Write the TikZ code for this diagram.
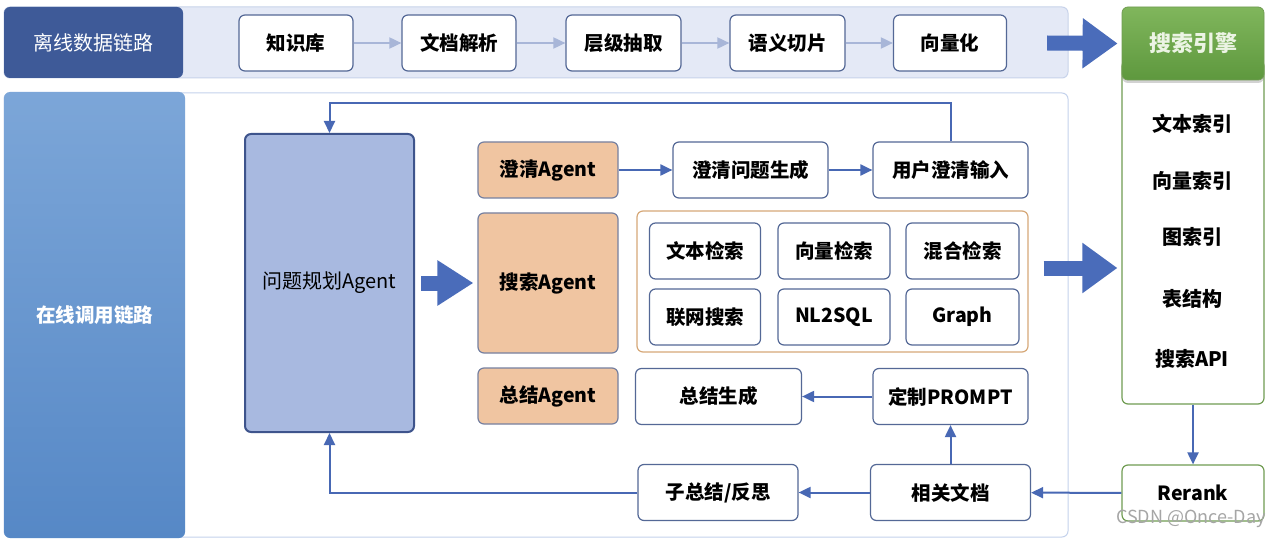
\documentclass[tikz,border=0pt]{standalone}
\usepackage{fontspec}
\setmainfont{Noto Sans CJK SC}
\usetikzlibrary{arrows.meta,calc,shadows}
\definecolor{darkband}{RGB}{62,90,152}
\definecolor{topfill}{RGB}{228,233,246}
\definecolor{topbd}{RGB}{200,211,234}
\definecolor{boxbd}{RGB}{84,104,150}
\definecolor{lightarr}{RGB}{168,182,216}
\definecolor{bigblue}{RGB}{74,108,186}
\definecolor{connblue}{RGB}{72,104,180}
\definecolor{onltop}{RGB}{124,166,216}
\definecolor{onlbot}{RGB}{86,136,198}
\definecolor{planfill}{RGB}{168,185,224}
\definecolor{planbd}{RGB}{62,84,140}
\definecolor{agentfill}{RGB}{240,197,161}
\definecolor{agentbd}{RGB}{118,128,160}
\definecolor{contbd}{RGB}{214,168,120}
\definecolor{greentop}{RGB}{128,182,92}
\definecolor{greenbot}{RGB}{94,152,62}
\definecolor{greenbd}{RGB}{112,156,82}
\definecolor{bandbd}{RGB}{196,210,236}
\tikzset{
  nbox/.style={draw=boxbd, line width=1.2pt, fill=white, rounded corners=6pt, inner sep=0pt,
    font=\bfseries\fontsize{19.5}{22}\selectfont, text=black},
  agent/.style={nbox, fill=agentfill, draw=agentbd},
  lightconn/.style={draw=lightarr, line width=1.8pt, -{Triangle[length=12pt,width=11pt]}},
  conn/.style={draw=connblue, line width=2pt, -{Triangle[length=12pt,width=11pt]}},
  bigarrow/.style={draw=bigblue, line width=15pt, -{Triangle[length=35pt,width=48pt]}},
  sidetext/.style={font=\bfseries\fontsize{20}{22}\selectfont, text=black, inner sep=0pt},
}
\begin{document}
\begin{tikzpicture}[x=1pt,y=-1pt]
\useasboundingbox (0,0) rectangle (1271,540);
\fill[white] (0,0) rectangle (1271,540);
% ---------- top band ----------
\draw[fill=topfill, draw=topbd, line width=1pt, rounded corners=6pt] (4,7) rectangle (1068,78);
\node[fill=darkband, rounded corners=6pt, minimum width=179pt, minimum height=71pt, inner sep=0pt,
  text=white, font=\fontsize{20}{22}\selectfont] (off) at (93.5,42.5) {离线数据链路};
\node[nbox, minimum width=114pt, minimum height=56pt] (kb) at (296,43) {知识库};
\node[nbox, minimum width=114pt, minimum height=56pt] (parse) at (459,43) {文档解析};
\node[nbox, minimum width=115pt, minimum height=56pt] (level) at (623.5,43) {层级抽取};
\node[nbox, minimum width=115pt, minimum height=56pt] (slice) at (787.5,43) {语义切片};
\node[nbox, minimum width=113pt, minimum height=56pt] (vec) at (950,43) {向量化};
\draw[lightconn] (kb) -- (parse);
\draw[lightconn] (parse) -- (level);
\draw[lightconn] (level) -- (slice);
\draw[lightconn] (slice) -- (vec);
% ---------- search engine ----------
\node[draw=greenbd, line width=1.2pt, fill=white, rounded corners=6pt, minimum width=142pt,
  minimum height=344pt, inner sep=0pt] (body) at (1193,232) {};
\node[top color=greentop, bottom color=greenbot, draw=greenbd, line width=0.8pt, rounded corners=6pt,
  minimum width=142pt, minimum height=73pt, inner sep=0pt, text={rgb,255:red,236;green,244;blue,228},
  font=\bfseries\fontsize{22}{24}\selectfont,
  drop shadow={shadow xshift=0pt, shadow yshift=-3pt, opacity=0.35}] (seh) at (1193,43.5) {搜索引擎};
\node[sidetext] (i1) at (1192,124) {文本索引};
\node[sidetext] (i2) at (1192,181) {向量索引};
\node[sidetext] (i3) at (1192,237) {图索引};
\node[sidetext] (i4) at (1192,299) {表结构};
\node[sidetext] (i5) at (1192,359) {搜索API};
\node[nbox, draw=greenbd, minimum width=142pt, minimum height=56pt, font=\bfseries\fontsize{19.5}{22}\selectfont]
  (rerank) at (1193,493) {Rerank};
\draw[bigarrow] ([xshift=40pt]vec.east) -- ([xshift=-4pt]seh.west);
\draw[conn] (body.south) -- (rerank.north);
% ---------- online band ----------
\draw[fill=white, draw=bandbd, line width=1pt, rounded corners=6pt] (4,93) rectangle (1068,537);
\node[top color=onltop, bottom color=onlbot, rounded corners=6pt, minimum width=181pt,
  minimum height=446pt, inner sep=0pt, text=white, font=\bfseries\fontsize{19.5}{22}\selectfont]
  (onl) at (94.5,315) {在线调用链路};
\node[nbox, fill=planfill, draw=planbd, line width=2pt, minimum width=169pt, minimum height=298pt,
  font=\fontsize{20}{22}\selectfont] (plan) at (329.5,283) {问题规划Agent};
\node[agent, minimum width=140pt, minimum height=56pt] (clarA) at (548,170) {澄清Agent};
\node[agent, minimum width=140pt, minimum height=140pt] (searchA) at (548,283) {搜索Agent};
\node[agent, minimum width=140pt, minimum height=56pt] (sumA) at (548,396) {总结Agent};
\node[nbox, minimum width=155pt, minimum height=56pt] (clarQ) at (750.5,170) {澄清问题生成};
\node[nbox, minimum width=155pt, minimum height=56pt] (userIn) at (950.5,170) {用户澄清输入};
\node[draw=contbd, line width=1.2pt, fill=white, rounded corners=6pt, minimum width=391pt,
  minimum height=141pt, inner sep=0pt] (cont) at (832.5,281.5) {};
\node[nbox, minimum width=111pt, minimum height=56pt] (t1) at (705,251) {文本检索};
\node[nbox, minimum width=112pt, minimum height=56pt] (t2) at (834,251) {向量检索};
\node[nbox, minimum width=113pt, minimum height=56pt] (t3) at (962.5,251) {混合检索};
\node[nbox, minimum width=111pt, minimum height=56pt] (t4) at (705,317) {联网搜索};
\node[nbox, minimum width=112pt, minimum height=56pt] (t5) at (834,317) {NL2SQL};
\node[nbox, minimum width=113pt, minimum height=56pt] (t6) at (962.5,317) {Graph};
\node[nbox, minimum width=166pt, minimum height=56pt] (sumGen) at (718.5,396.5) {总结生成};
\node[nbox, minimum width=155pt, minimum height=56pt] (prompt) at (950.5,396.5) {定制PROMPT};
\node[nbox, minimum width=160pt, minimum height=56pt] (sub) at (718,492.5) {子总结/反思};
\node[nbox, minimum width=160pt, minimum height=56pt] (docs) at (950.5,492.5) {相关文档};
% connectors
\draw[conn] (clarA) -- (clarQ);
\draw[conn] (clarQ) -- (userIn);
\draw[conn] (userIn.north) -- ++(0,-38) -| (plan.north);
\draw[bigarrow, line width=15pt, -{Triangle[length=36pt,width=43pt]}] ([xshift=6pt]plan.east) -- ([xshift=-4pt]searchA.west);
\draw[bigarrow] ($(cont.east)+(15,-13.5)$) -- ($(body.west)+(-4,36)$);
\draw[conn] (rerank) -- (docs);
\draw[conn] (docs) -- (sub);
\draw[conn] (sub.west) -| (plan.south);
\draw[conn] (docs.north) -- (prompt.south);
\draw[conn] (prompt) -- (sumGen);
% watermark
\node[text=black!35, font=\fontsize{18}{20}\selectfont, inner sep=0pt] (wm) at (1191,519) {CSDN @Once-Day};
\end{tikzpicture}
\end{document}
